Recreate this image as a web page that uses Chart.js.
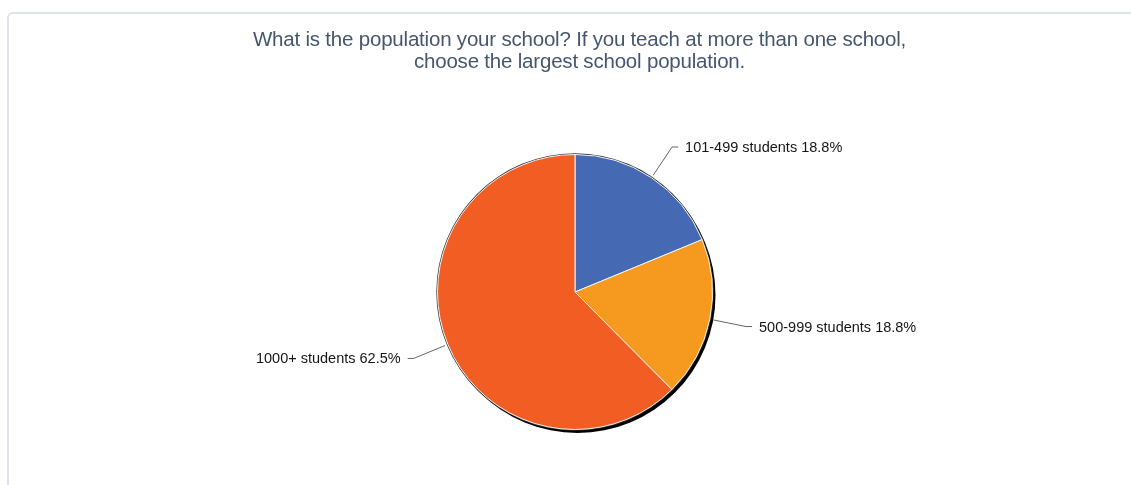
<!DOCTYPE html>
<html>
<head>
<meta charset="utf-8">
<script src="https://cdn.jsdelivr.net/npm/chart.js@4/dist/chart.umd.min.js"></script>
<style>
  html, body { margin: 0; padding: 0; background: #fff; overflow: hidden; }
  body { width: 1131px; height: 485px; position: relative; font-family: "Liberation Sans", Arial, sans-serif; }
  .panel {
    position: absolute; left: 7px; top: 12px; width: 1200px; height: 600px;
    border: 2px solid #dfe3ec; border-radius: 6px; box-sizing: border-box;
  }
  .title {
    position: absolute; left: 0; width: 1159px; top: 28px;
    text-align: center; font-size: 20.5px; line-height: 22px; color: #46566f;
    letter-spacing: -0.2px;
  }
  #pie { position: absolute; left: 0; top: 0; }
</style>
</head>
<body>
<div class="panel"></div>
<canvas id="pie" width="1131" height="485"></canvas>
<div class="title">What is the population your school? If you teach at more than one school,<br>choose the largest school population.</div>
<script>
// answer buckets and their share of responses (%)
const categories = ['101-499 students', '500-999 students', '1000+ students'];
const shares = [18.8, 18.8, 62.5];
const sliceColors = ['#4569b2', '#f5991f', '#f15d22'];

// dark rim + drop shadow under the whole pie
const pieShadow = {
  id: 'pieShadow',
  beforeDatasetsDraw(chart) {
    const arc = chart.getDatasetMeta(0).data[0];
    if (!arc) return;
    const { x, y, outerRadius } = arc.getProps(['x', 'y', 'outerRadius'], true);
    const ctx = chart.ctx;
    ctx.save();
    ctx.fillStyle = '#000';
    ctx.beginPath();
    ctx.arc(x + 2.5, y + 3, outerRadius + 0.5, 0, Math.PI * 2);
    ctx.fill();
    ctx.fillStyle = '#333';
    ctx.beginPath();
    ctx.arc(x, y, outerRadius + 1.2, 0, Math.PI * 2);
    ctx.fill();
    ctx.restore();
  }
};

// callout labels with leader lines
const calloutLabels = {
  id: 'calloutLabels',
  afterDatasetsDraw(chart) {
    const ctx = chart.ctx;
    const meta = chart.getDatasetMeta(0);
    ctx.save();
    ctx.font = '14.5px "Liberation Sans", Arial, sans-serif';
    ctx.textBaseline = 'middle';
    ctx.strokeStyle = '#666';
    ctx.lineWidth = 1;
    ctx.fillStyle = '#151515';
    meta.data.forEach((arc, i) => {
      const p = arc.getProps(['x', 'y', 'startAngle', 'endAngle', 'outerRadius'], true);
      const mid = (p.startAngle + p.endAngle) / 2;
      const cos = Math.cos(mid), sin = Math.sin(mid);
      const x1 = p.x + cos * (p.outerRadius + 3), y1 = p.y + sin * (p.outerRadius + 3);
      const x2 = p.x + cos * (p.outerRadius + 37), y2 = p.y + sin * (p.outerRadius + 37);
      const dir = cos >= 0 ? 1 : -1;
      const x3 = x2 + dir * 6;
      ctx.beginPath();
      ctx.moveTo(x1, y1);
      ctx.lineTo(x2, y2);
      ctx.lineTo(x3, y2);
      ctx.stroke();
      const text = categories[i] + ' ' + shares[i].toFixed(1) + '%';
      ctx.textAlign = dir > 0 ? 'left' : 'right';
      ctx.fillText(text, x3 + dir * 7, y2 + 1);
    });
    ctx.restore();
  }
};

new Chart(document.getElementById('pie'), {
  type: 'pie',
  data: {
    labels: categories,
    datasets: [{
      data: shares,
      backgroundColor: sliceColors,
      borderColor: '#f4f4f4',
      borderWidth: 1
    }]
  },
  options: {
    responsive: false,
    animation: false,
    layout: { padding: { top: 154, bottom: 55, left: 19, right: 0 } },
    plugins: {
      legend: { display: false },
      title: { display: false },
      tooltip: { enabled: false }
    }
  },
  plugins: [pieShadow, calloutLabels]
});
</script>
</body>
</html>
